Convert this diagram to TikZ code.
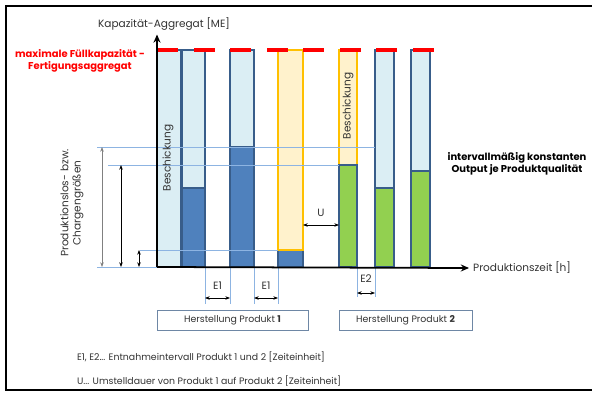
\documentclass[tikz,border=0pt]{standalone}
\usepackage{fontspec}
\setmainfont{Poppins}
\usetikzlibrary{positioning,arrows.meta,calc}
\definecolor{colLightBlue}{RGB}{219,238,244}
\definecolor{colBlueBorder}{RGB}{56,93,138}
\definecolor{colBlue}{RGB}{79,129,189}
\definecolor{colOrange}{RGB}{255,192,0}
\definecolor{colLightOrange}{RGB}{255,242,204}
\definecolor{colGreen}{RGB}{146,208,80}
\definecolor{colGuide}{RGB}{141,180,226}
\definecolor{colBoxBorder}{RGB}{110,135,165}
\definecolor{colText}{RGB}{50,50,50}

\begin{document}
\begin{tikzpicture}[x=0.03cm, y=-0.03cm,
  font=\fontsize{9}{10.5}\selectfont, text=colText,
  bar/.style={draw=colBlueBorder, line width=1.3pt},
  orangebar/.style={draw=colOrange, line width=1.3pt},
  guide/.style={colGuide, line width=0.5pt},
  dim/.style={{Stealth[length=4pt]}-{Stealth[length=4pt]}, line width=0.6pt, black},
  axis/.style={-{Stealth[length=7pt, width=6pt]}, line width=1.5pt, black},
  prodbox/.style={rectangle, draw=colBoxBorder, line width=0.6pt, minimum height=0.6cm,
    font=\fontsize{8}{9.5}\selectfont},
  rotlabel/.style={rotate=90, font=\fontsize{9}{10.5}\selectfont}]
  \useasboundingbox (0,0) rectangle (592,394);
  \draw[line width=1.3pt] (592,6) -- (6,6) -- (6,390) -- (592,390);

  % bars, product 1
  \fill[colLightBlue] (157,50) rectangle (181,267);
  \draw[bar] (157,50) rectangle (181,267);
  \fill[colLightBlue] (182,50) rectangle (205,188);
  \fill[colBlue] (182,188) rectangle (205,267);
  \draw[bar] (182,50) rectangle (205,267) (182,188) -- (205,188);
  \fill[colLightBlue] (230,50) rectangle (254,147);
  \fill[colBlue] (230,147) rectangle (254,267);
  \draw[bar] (230,50) rectangle (254,267) (230,147) -- (254,147);
  \fill[colBlue] (278,250) rectangle (303,267);
  \draw[bar] (278,250) rectangle (303,267);
  \fill[colLightOrange] (278,50) rectangle (303,250);
  \draw[orangebar] (278,50) rectangle (303,250);

  % bars, product 2
  \fill[colLightOrange] (339,50) rectangle (357,165);
  \draw[orangebar] (339,165) -- (339,50) -- (357,50) -- (357,165);
  \fill[colGreen] (339,165) rectangle (357,267);
  \draw[bar] (339,165) rectangle (357,267);
  \fill[colLightBlue] (375,50) rectangle (394,188);
  \fill[colGreen] (375,188) rectangle (394,267);
  \draw[bar] (375,50) rectangle (394,267) (375,188) -- (394,188);
  \fill[colLightBlue] (411,50) rectangle (430,171);
  \fill[colGreen] (411,171) rectangle (430,267);
  \draw[bar] (411,50) rectangle (430,267) (411,171) -- (430,171);

  % guide lines
  \draw[guide] (97,147) -- (375,147);
  \draw[guide] (108,165) -- (339,165);
  \draw[guide] (140,250) -- (278,250);
  \draw[guide] (97,267) -- (157,267);
  \foreach \x in {205,230,254,278} \draw[guide] (\x,267) -- (\x,304);
  \foreach \x in {357,375} \draw[guide] (\x,267) -- (\x,297);

  % max. capacity
  \foreach \x in {157,194,230,267,303,340,376,413}
    \draw[red, line width=3.5pt] (\x,50) -- ++(21,0);

  % axes
  \coordinate (origin) at (157,267);
  \node (ylab) at (164,24) {Kapazität-Aggregat [ME]};
  \node[anchor=west] (xlab) at (469,268) {Produktionszeit [h]};
  \draw[axis] (origin) -- (origin |- ylab.south);
  \draw[axis] (origin) -- (xlab.west);

  % labels
  \node[align=center, text=red, font=\fontsize{8.5}{10.5}\selectfont\bfseries] (maxcap) at (80,61)
    {maximale Füllkapazität -\\Fertigungsaggregat};
  \node[align=center, text=black, font=\fontsize{8.5}{10}\selectfont\bfseries] (output) at (517,164)
    {intervallmäßig konstanten\\Output je Produktqualität};
  \node[rotlabel, align=center] (losgr) at (72,203) {Produktionslos- bzw.\\Chargengrößen};
  \node[rotlabel] (besch1) at (168,158) {Beschickung};
  \node[rotlabel] (besch2) at (348,106) {Beschickung};

  % batch sizes
  \coordinate (lA) at (102,147); \coordinate (lB) at (121,165); \coordinate (lC) at (139,250);
  \draw[dim, gray] (lA) -- (lA |- origin);
  \draw[dim] (lB) -- (lB |- origin);
  \draw[dim] (lC) -- (lC |- origin);

  % intervals
  \node (e1a) at (217.5,286) {E1};
  \node (e1b) at (266,286) {E1};
  \node (e2) at (366,279) {E2};
  \node (u) at (321,213) {U};
  \draw[dim] (205,298) coordinate (e1aL) -- (230,298) coordinate (e1aR);
  \draw[dim] (254,298) coordinate (e1bL) -- (278,298) coordinate (e1bR);
  \draw[dim] (357,293) coordinate (e2L) -- (375,293) coordinate (e2R);
  \draw[dim] (303,225) coordinate (uL) -- (339,225) coordinate (uR);

  % products
  \node[prodbox, minimum width=4.53cm] (prod1) at (232.5,320) {Herstellung Produkt \textbf{1}};
  \node[prodbox, minimum width=3.99cm] (prod2) at (405.5,320) {Herstellung Produkt \textbf{2}};

  % legend
  \node[anchor=west, font=\fontsize{8}{9.5}\selectfont] (legE) at (73,357)
    {E1, E2... Entnahmeintervall Produkt 1 und 2 [Zeiteinheit]};
  \node[anchor=west, font=\fontsize{8}{9.5}\selectfont] (legU) at (73,381)
    {U... Umstelldauer von Produkt 1 auf Produkt 2 [Zeiteinheit]};
\end{tikzpicture}
\end{document}
